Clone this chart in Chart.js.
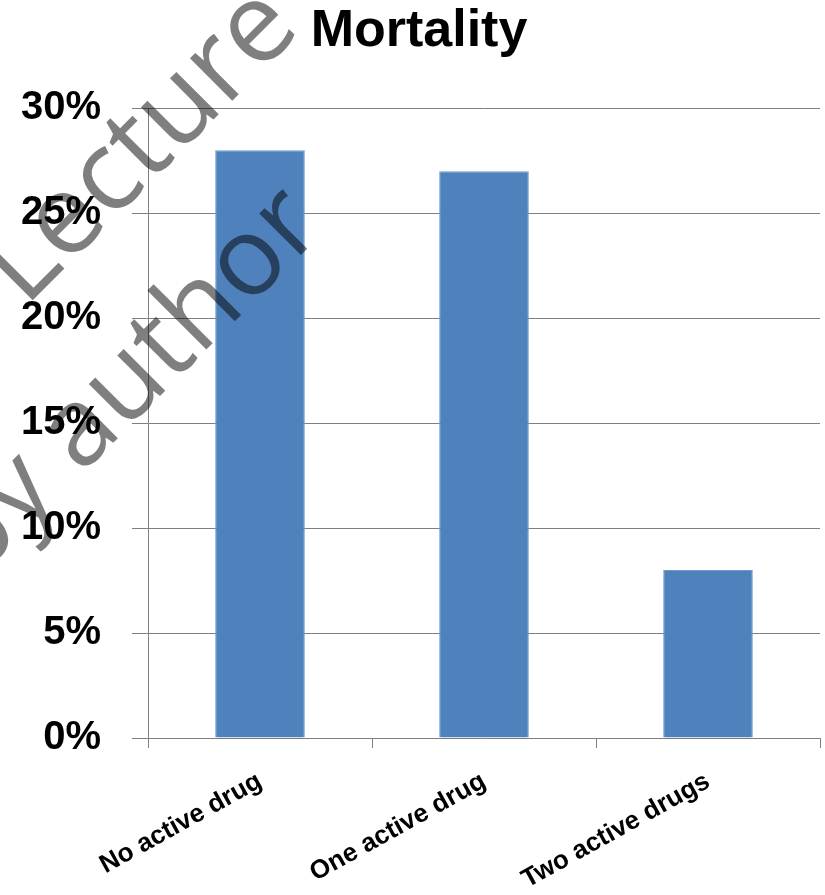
<!DOCTYPE html>
<html lang="en">
<head>
    <meta charset="UTF-8">
    <title>Mortality</title>
    <script src="https://cdn.jsdelivr.net/npm/chart.js@4.4.0/dist/chart.umd.min.js"></script>
    <style>
        html, body {
            margin: 0;
            padding: 0;
            background: #ffffff;
        }
        #wrap {
            width: 825px;
            height: 895px;
        }
    </style>
</head>
<body>
    <div id="wrap">
        <canvas id="mortalityChart" width="825" height="895"></canvas>
    </div>
    <script>
        // Mortality (%) by number of active drugs
        const categories = ["No active drug", "One active drug", "Two active drugs"];
        const mortality = [28, 27, 8];
        const yTicks = [0, 5, 10, 15, 20, 25, 30];

        const gridGray = "#7f7f7f";
        const barBlue = "#4f81bd";

        // diagonal watermark text over the plot
        const watermark = {
            id: "watermark",
            afterDraw(chart) {
                const ctx = chart.ctx;
                ctx.save();
                ctx.fillStyle = "rgba(0, 0, 0, 0.5)";
                ctx.textBaseline = "alphabetic";
                const angle = -45 * Math.PI / 180;

                ctx.save();
                ctx.font = '112px "Open Sans"';
                ctx.translate(25, 308);
                ctx.rotate(angle);
                ctx.textAlign = "left";
                ctx.fillText("Lecture", 0, 0);
                ctx.restore();

                ctx.save();
                ctx.font = '110px "Open Sans"';
                ctx.translate(81, 475);
                ctx.rotate(angle);
                ctx.textAlign = "left";
                ctx.fillText("author", 0, 0);
                ctx.textAlign = "right";
                ctx.fillText("by ", 0, 0);
                ctx.restore();

                ctx.restore();
            }
        };

        const ctx = document.getElementById("mortalityChart").getContext("2d");
        new Chart(ctx, {
            type: "bar",
            data: {
                labels: categories,
                datasets: [
                    {
                        label: "Mortality",
                        data: mortality,
                        backgroundColor: barBlue,
                        borderColor: "#6d9bd0",
                        borderWidth: 1,
                        barPercentage: 0.4,
                        categoryPercentage: 1.0,
                    },
                ],
            },
            options: {
                responsive: false,
                animation: false,
                layout: {
                    padding: { left: 18, right: 5, top: 0, bottom: 0 },
                },
                plugins: {
                    legend: { display: false },
                    tooltip: { enabled: false },
                    title: {
                        display: true,
                        text: "Mortality",
                        color: "#000000",
                        font: { family: "Liberation Sans", size: 52, weight: "bold" },
                        padding: { top: 0, bottom: 46 },
                    },
                },
                scales: {
                    x: {
                        grid: {
                            display: true,
                            drawOnChartArea: false,
                            drawTicks: true,
                            tickLength: 10,
                            color: gridGray,
                        },
                        border: { display: true, color: gridGray, width: 1 },
                        ticks: {
                            color: "#000000",
                            font: { family: "Liberation Sans", size: 26, weight: "bold" },
                            minRotation: 29,
                            maxRotation: 29,
                            padding: 18,
                        },
                        afterFit(scale) {
                            scale.height = 157;
                        },
                    },
                    y: {
                        min: 0,
                        max: 30,
                        afterBuildTicks(scale) {
                            scale.ticks = yTicks.map(v => ({ value: v }));
                        },
                        grid: {
                            color: gridGray,
                            lineWidth: 1,
                            drawTicks: true,
                            tickLength: 16,
                        },
                        border: { display: true, color: gridGray, width: 1 },
                        ticks: {
                            color: "#000000",
                            font: { family: "Liberation Sans", size: 40, weight: "bold" },
                            padding: 31,
                            callback: v => v + "%",
                        },
                        afterFit(scale) {
                            scale.width = 130;
                        },
                    },
                },
            },
            plugins: [watermark],
        });
    </script>
</body>
</html>
